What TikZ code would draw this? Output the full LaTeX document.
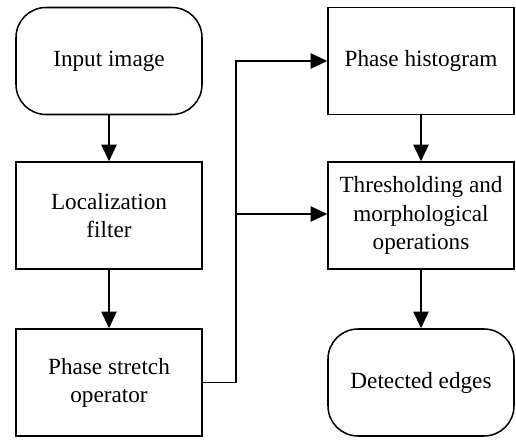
\documentclass[tikz,border=0pt]{standalone}
\usepackage{fontspec}
\setmainfont{Liberation Serif}
\usepackage{tikz}
\usetikzlibrary{arrows.meta,positioning}

\begin{document}
\begin{tikzpicture}[
    box/.style={draw, line width=1.3pt, minimum width=5.58cm, minimum height=3.21cm,
        align=center, font=\rmfamily\fontsize{19.8}{24}\selectfont},
    endbox/.style={box, rounded corners=0.9cm},
    flow/.style={line width=1.3pt, -{Triangle[length=0.5cm, width=0.46cm]}}
]
    \useasboundingbox (0,0) rectangle (15.48,13.2);
    % Left column
    \node[endbox] (input) at (3.27, 11.37) {Input image};
    \node[box] (loc) at (3.27, 6.735) {Localization\\filter};
    \node[box] (pst) at (3.27, 1.725) {Phase stretch\\operator};
    % Right column
    \node[box] (hist) at (12.63, 11.37) {Phase histogram};
    \node[box] (thresh) at (12.63, 6.735) {Thresholding and\\morphological\\operations};
    \node[endbox] (edges) at (12.63, 1.725) {Detected edges};

    % Connectors
    \draw[flow] (input) -- (loc);
    \draw[flow] (loc) -- (pst);
    \draw[flow] (hist) -- (thresh);
    \draw[flow] (thresh) -- (edges);
    \coordinate (split) at (7.08, 6.78);
    \draw[line width=1.3pt] (pst.east) -| (split);
    \draw[flow] (split) |- (hist.west);
    \draw[flow] (split) -- (split -| thresh.west);
\end{tikzpicture}
\end{document}
